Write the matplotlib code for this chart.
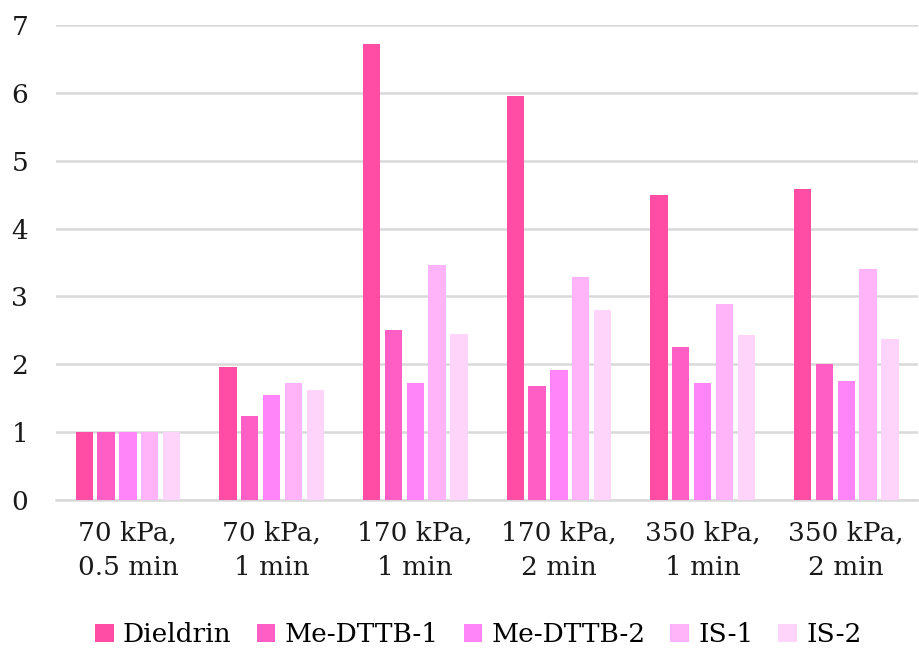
import matplotlib.pyplot as plt
import numpy as np

plt.rcParams['font.family'] = ['DejaVu Serif']

conditions = ['70 kPa,\n0.5 min', '70 kPa,\n1 min', '170 kPa,\n1 min',
              '170 kPa,\n2 min', '350 kPa,\n1 min', '350 kPa,\n2 min']
series_names = ['Dieldrin', 'Me-DTTB-1', 'Me-DTTB-2', 'IS-1', 'IS-2']
dieldrin = [1.0, 1.96, 6.72, 5.95, 4.50, 4.58]
me_dttb_1 = [1.0, 1.24, 2.50, 1.68, 2.26, 2.01]
me_dttb_2 = [1.0, 1.55, 1.72, 1.91, 1.73, 1.76]
is_1 = [1.0, 1.72, 3.46, 3.28, 2.89, 3.41]
is_2 = [1.0, 1.62, 2.45, 2.80, 2.43, 2.37]
colors = ['#FF4DA6', '#FF5FC5', '#FF85F8', '#FFB3F8', '#FFD4FA']

fig = plt.figure(figsize=(9.19, 6.5), dpi=100)
ax = fig.add_axes([0.061, 0.2308, 0.938, 0.7307])

x = np.arange(len(conditions))
step = 0.152
width = 0.12
for i, (name, vals) in enumerate(zip(series_names,
                                     [dieldrin, me_dttb_1, me_dttb_2, is_1, is_2])):
    ax.bar(x + (i - 2) * step, vals, width, color=colors[i], label=name, zorder=3)

ax.set_xlim(-0.5, len(conditions) - 0.5)
ax.set_ylim(0, 7)
ax.set_yticks(range(0, 8))
ax.grid(axis='y', color='#d9d9d9', linewidth=1.8, zorder=0)
for s in ['top', 'right', 'left']:
    ax.spines[s].set_visible(False)
ax.spines['bottom'].set_color('#d9d9d9')
ax.spines['bottom'].set_linewidth(1.8)
ax.tick_params(axis='both', length=0, labelsize=19, colors='#1a1a1a')
ax.tick_params(axis='y', pad=20)
ax.tick_params(axis='x', pad=15)
ax.set_xticks(x)
ax.set_xticklabels(conditions, linespacing=1.45)

ax.legend(loc='lower center', bbox_to_anchor=(0.49, -0.36), ncol=5, frameon=False,
          fontsize=19, handlelength=0.7, handleheight=0.7, handletextpad=0.35,
          columnspacing=0.95)

fig.savefig('out.png', dpi=100)
